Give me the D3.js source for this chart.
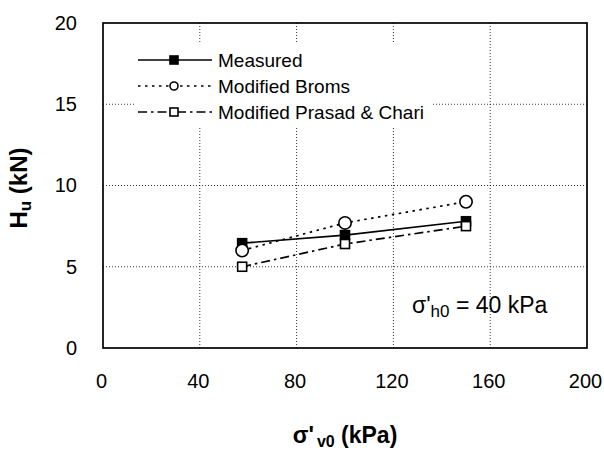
<!DOCTYPE html>
<html>
<head>
<meta charset="utf-8">
<script src="https://cdn.jsdelivr.net/npm/d3@7"></script>
<style>
body { margin: 0; background: #fff; }
text { font-family: Arial, "Liberation Sans", sans-serif; }
</style>
</head>
<body>
<script>
// data
var sigmaV = [57.5, 100, 150];
var measured = [6.45, 6.95, 7.8];
var broms = [6.0, 7.7, 9.0];
var prasad = [5.0, 6.4, 7.5];
var xTicks = [0, 40, 80, 120, 160, 200];
var yTicks = [0, 5, 10, 15, 20];
var seriesNames = ["Measured", "Modified Broms", "Modified Prasad & Chari"];

var margin = { left: 103, top: 23, right: 17, bottom: 103 };
var width = 604 - margin.left - margin.right,
	height = 451 - margin.top - margin.bottom;

var svg = d3.select("body").append("svg")
	.attr("width", 604)
	.attr("height", 451);
var g = svg.append("g")
	.attr("transform", "translate(" + margin.left + "," + margin.top + ")");

var x = d3.scaleLinear().domain([0, 200]).range([0, width]);
var y = d3.scaleLinear().domain([0, 20]).range([height, 0]);

// gridlines
g.selectAll(".vgrid").data(xTicks.slice(1, -1)).enter().append("line")
	.attr("x1", function (d) { return x(d); })
	.attr("x2", function (d) { return x(d); })
	.attr("y1", 0).attr("y2", height)
	.attr("stroke", "#000").attr("stroke-width", 0.8)
	.attr("stroke-dasharray", "1,2");
g.selectAll(".hgrid").data(yTicks.slice(1, -1)).enter().append("line")
	.attr("y1", function (d) { return y(d); })
	.attr("y2", function (d) { return y(d); })
	.attr("x1", 0).attr("x2", width)
	.attr("stroke", "#000").attr("stroke-width", 0.8)
	.attr("stroke-dasharray", "1,2");

// frame
g.append("rect").attr("width", width).attr("height", height)
	.attr("fill", "none").attr("stroke", "#000").attr("stroke-width", 1.7);

// axes (labels only)
var xAxis = g.append("g")
	.attr("transform", "translate(0," + height + ")")
	.call(d3.axisBottom(x).tickValues(xTicks).tickSize(0).tickPadding(26));
var yAxis = g.append("g")
	.call(d3.axisLeft(y).tickValues(yTicks).tickSize(0).tickPadding(26));
[xAxis, yAxis].forEach(function (a) {
	a.select(".domain").remove();
	a.selectAll("text").attr("font-size", "20px").attr("fill", "#000")
		.attr("font-family", "Arial, 'Liberation Sans', sans-serif");
});
xAxis.selectAll("text").attr("dx", -2);

// axis titles
var yt = svg.append("text")
	.attr("transform", "translate(27,188) rotate(-90)")
	.attr("text-anchor", "middle")
	.attr("font-size", "24px").attr("font-weight", "bold");
yt.append("tspan").text("H");
yt.append("tspan").attr("font-size", "17px").attr("dy", 4).text("u");
yt.append("tspan").attr("dy", -4).text("  (kN)");

var xt = svg.append("text")
	.attr("x", 345).attr("y", 443)
	.attr("text-anchor", "middle")
	.attr("font-size", "23px").attr("font-weight", "bold");
xt.append("tspan").text("σ'");
xt.append("tspan").attr("font-size", "16px").attr("dx", 3).attr("dy", 4).text("v0");
xt.append("tspan").attr("dy", -4).text(" (kPa)");

// series
var line = d3.line()
	.x(function (d) { return x(d[0]); })
	.y(function (d) { return y(d[1]); });
var styles = [
	{ vals: measured, dash: null, marker: "fsq" },
	{ vals: broms, dash: "2.5,4.5", marker: "circ" },
	{ vals: prasad, dash: "9,4,2.5,4", marker: "osq" }
];

function drawMarker(sel, type, cx, cy, big) {
	if (type === "circ") {
		sel.append("circle").attr("cx", cx).attr("cy", cy).attr("r", big ? 6.2 : 4)
			.attr("fill", "#fff").attr("stroke", "#000").attr("stroke-width", 1.6);
	} else {
		var s = big ? 9 : 8;
		sel.append("rect").attr("x", cx - s / 2).attr("y", cy - s / 2)
			.attr("width", s).attr("height", s)
			.attr("fill", type === "fsq" ? "#000" : "#fff")
			.attr("stroke", "#000").attr("stroke-width", 1.6);
	}
}

styles.forEach(function (s) {
	var pts = sigmaV.map(function (v, i) { return [v, s.vals[i]]; });
	g.append("path").datum(pts)
		.attr("d", line).attr("fill", "none")
		.attr("stroke", "#000").attr("stroke-width", 1.7)
		.attr("stroke-dasharray", s.dash);
});
styles.forEach(function (s) {
	sigmaV.forEach(function (v, i) {
		drawMarker(g, s.marker, x(v), y(s.vals[i]), true);
	});
});

// legend
var leg = svg.append("g");
leg.append("rect").attr("x", 136).attr("y", 44).attr("width", 296).attr("height", 84)
	.attr("fill", "#fff");
seriesNames.forEach(function (name, i) {
	var ly = 60 + i * 26;
	leg.append("line").attr("x1", 138).attr("x2", 212).attr("y1", ly).attr("y2", ly)
		.attr("stroke", "#000").attr("stroke-width", 1.7)
		.attr("stroke-dasharray", styles[i].dash);
	drawMarker(leg, styles[i].marker, 174, ly, false);
	leg.append("text").attr("x", 218).attr("y", ly + 6.5)
		.attr("font-size", "19px").text(name);
});

// annotation
var ann = svg.append("text").attr("x", 412).attr("y", 313).attr("font-size", "23px");
ann.append("tspan").text("σ'");
ann.append("tspan").attr("font-size", "17px").attr("dy", 4).text("h0");
ann.append("tspan").attr("dy", -4).text(" = 40 kPa");
</script>
</body>
</html>
